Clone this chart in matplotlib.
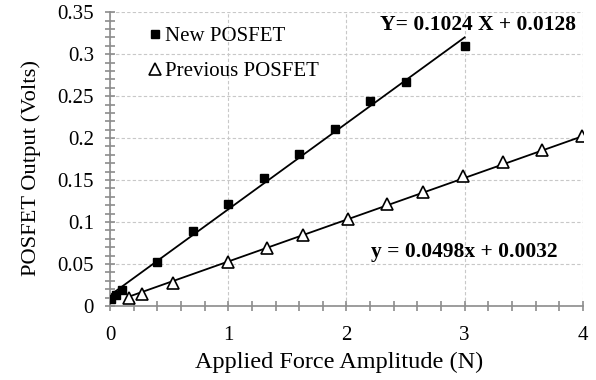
import numpy as np
import matplotlib.pyplot as plt
from matplotlib.ticker import MultipleLocator

plt.rcParams['font.family'] = ['Liberation Serif', 'DejaVu Serif']

# New POSFET (filled squares)
new_x = [0.01, 0.05, 0.1, 0.4, 0.7, 1.0, 1.3, 1.6, 1.9, 2.2, 2.5, 3.0]
new_y = [0.0085, 0.013, 0.019, 0.053, 0.089, 0.122, 0.152, 0.181, 0.211, 0.244, 0.267, 0.310]

# Previous POSFET (open triangles)
prev_x = [0.16, 0.27, 0.53, 1.0, 1.33, 1.63, 2.01, 2.34, 2.65, 2.99, 3.32, 3.65, 3.99]
prev_y = [0.009, 0.014, 0.028, 0.052, 0.069, 0.085, 0.104, 0.121, 0.136, 0.155, 0.171, 0.186, 0.202]

fit_new = (0.1024, 0.0128)
fit_prev = (0.0498, 0.0032)

fig = plt.figure(figsize=(5.96, 3.8), dpi=100)
ax = fig.add_axes([0.1846, 0.1947, 0.7934, 0.7733])

gc = '#8c8c8c'

ax.plot(new_x, new_y, 's', color='black', ms=6, label='New POSFET', zorder=3)
ax.plot(prev_x, prev_y, '^', mfc='white', mec='black', mew=1.2, ms=9,
        label='Previous POSFET', zorder=3)

xs = np.array([min(new_x), max(new_x)])
ax.plot(xs, fit_new[0] * xs + fit_new[1], color='black', lw=1.3, zorder=2)
xs = np.array([min(prev_x), max(prev_x)])
ax.plot(xs, fit_prev[0] * xs + fit_prev[1], color='black', lw=1.3, zorder=2)

ax.set_xlim(0, 4)
ax.set_ylim(0, 0.35)
ax.xaxis.set_major_locator(MultipleLocator(1))
ax.xaxis.set_minor_locator(MultipleLocator(0.2))
ax.yaxis.set_minor_locator(MultipleLocator(0.01))
ax.set_yticks([0, 0.05, 0.1, 0.15, 0.2, 0.25, 0.3, 0.35])
ax.set_yticklabels(['0', '0.05', '0.1', '0.15', '0.2', '0.25', '0.3', '0.35'])

ax.grid(True, which='major', color='#c8c8c8', ls=(0, (3, 2)), lw=0.8)
for s in ['top', 'right']:
    ax.spines[s].set_visible(False)
for s in ['left', 'bottom']:
    ax.spines[s].set_color(gc)
    ax.spines[s].set_linewidth(1.2)
ax.tick_params(which='both', direction='inout', color=gc, width=1.2, length=7,
               labelsize=15)
ax.tick_params(axis='y', pad=8)
ax.tick_params(axis='x', pad=11)

ax.set_xlabel('Applied Force Amplitude (N)', fontsize=17.5, labelpad=5)
ax.set_ylabel('POSFET Output (Volts)', fontsize=16.2, labelpad=12)
ax.xaxis.label.set_x(0.485)
ax.yaxis.label.set_y(0.471)

ax.text(3.11, 0.3345, 'Y= 0.1024 X + 0.0128', fontsize=15.5, fontweight='bold',
        ha='center', va='center')
ax.text(3.0, 0.0646, 'y = 0.0498x + 0.0032', fontsize=15.5, fontweight='bold',
        ha='center', va='center')

ax.legend(loc='upper left', bbox_to_anchor=(0.033, 1.015), frameon=False,
          fontsize=15, handletextpad=0.0, handlelength=1.0, labelspacing=0.75)

fig.savefig('out.png', dpi=100)
